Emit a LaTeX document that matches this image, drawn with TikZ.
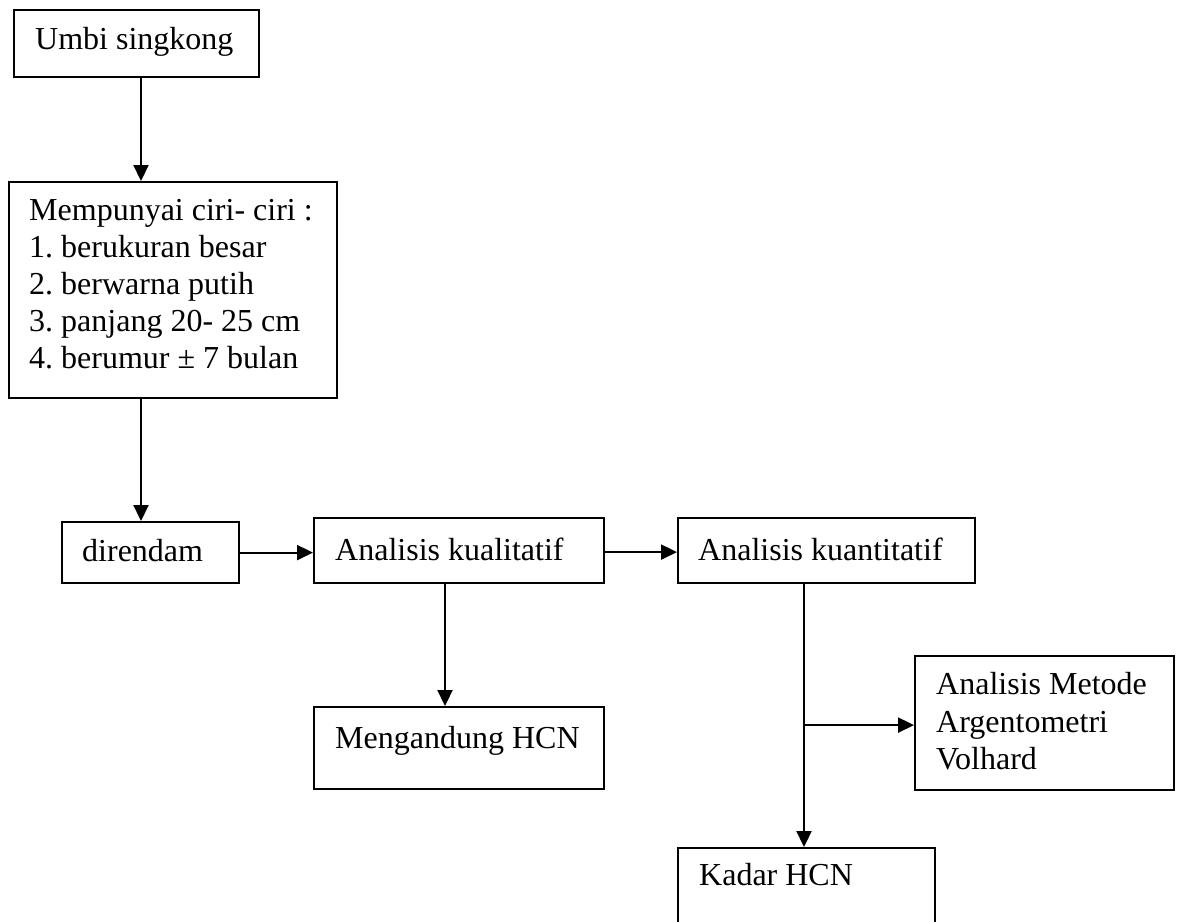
\documentclass[tikz,border=0pt]{standalone}
\usepackage{fontspec}
\setmainfont{Liberation Serif}
\usetikzlibrary{arrows.meta}
\begin{document}
\begin{tikzpicture}[x=1pt,y=-1pt,
  box/.style={draw=black,line width=2.2pt,rectangle,anchor=north west,inner sep=0pt},
  txt/.style={anchor=base west,inner sep=0pt,font=\fontsize{32pt}{37pt}\selectfont\frenchspacing},
  arr/.style={line width=2.2pt,-{Triangle[length=16pt,width=15pt]}}]
\clip (0,0) rectangle (1177,921);
\fill[white] (0,0) rectangle (1177,921);
% boxes
\node[box,minimum width=245pt,minimum height=67pt] (umbi) at (13,9) {};
\node[box,minimum width=328pt,minimum height=216pt] (ciri) at (8,181) {};
\node[box,minimum width=177pt,minimum height=61pt] (rendam) at (61,521) {};
\node[box,minimum width=290pt,minimum height=65pt] (kual) at (313,517) {};
\node[box,minimum width=297pt,minimum height=65pt] (kuan) at (677,517) {};
\node[box,minimum width=290pt,minimum height=82pt] (meng) at (313,706) {};
\node[box,minimum width=259pt,minimum height=134pt] (argento) at (914,655) {};
\node[box,minimum width=257pt,minimum height=100pt] (kadar) at (677,847) {};
% texts
\node[txt] (tumbi) at (35,49) {Umbi singkong};
\node[txt] (tciri1) at (29,220) {Mempunyai ciri- ciri :};
\node[txt] (tciri2) at (29,257) {1. berukuran besar};
\node[txt] (tciri3) at (29,294) {2. berwarna putih};
\node[txt] (tciri4) at (29,331) {3. panjang 20- 25 cm};
\node[txt] (tciri5) at (29,368) {4. berumur ± 7 bulan};
\node[txt] (trendam) at (82,561) {direndam};
\node[txt] (tkual) at (335,560) {Analisis kualitatif};
\node[txt] (tkuan) at (698,560) {Analisis kuantitatif};
\node[txt] (tmeng) at (335,748) {Mengandung HCN};
\node[txt] (targ1) at (936,694) {Analisis Metode};
\node[txt] (targ2) at (936,732) {Argentometri};
\node[txt] (targ3) at (936,769) {Volhard};
\node[txt] (tkadar) at (699,885) {Kadar HCN};
% connectors
\draw[arr] ([xshift=128pt]umbi.south west) -- ([xshift=128pt]umbi.south west |- ciri.north);
\draw[arr] ([xshift=133pt]ciri.south west) -- ([xshift=133pt]ciri.south west |- rendam.north);
\draw[arr] (rendam.east) -- (rendam.east -| kual.west);
\draw[arr] ([yshift=-1.5pt]kual.east) -- ([yshift=-1.5pt]kual.east -| kuan.west);
\draw[arr] ([xshift=132pt]kual.south west) -- ([xshift=132pt]kual.south west |- meng.north);
\draw[arr] ([xshift=127pt]kuan.south west) -- ([xshift=127pt]kuan.south west |- kadar.north);
\coordinate (br) at ([xshift=127pt]kuan.south west |- argento.west);
\coordinate (brj) at ([yshift=-2pt]br);
\draw[arr] (brj) -- (brj -| argento.west);
\end{tikzpicture}
\end{document}
